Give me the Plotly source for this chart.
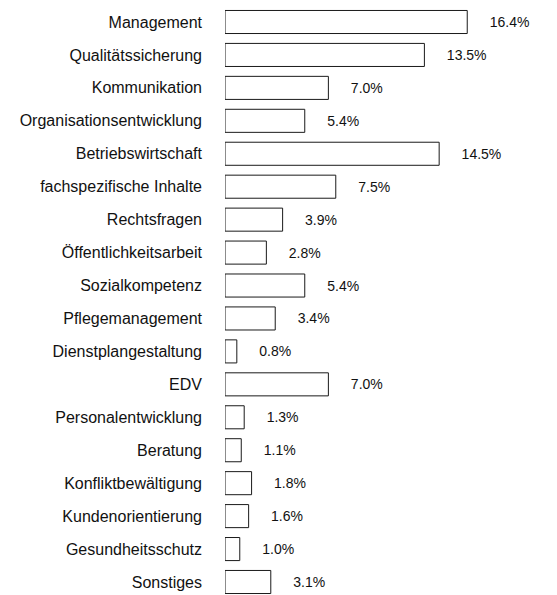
import plotly.graph_objects as go

categories = [
    'Management', 'Qualitätssicherung', 'Kommunikation', 'Organisationsentwicklung',
    'Betriebswirtschaft', 'fachspezifische Inhalte', 'Rechtsfragen', 'Öffentlichkeitsarbeit',
    'Sozialkompetenz', 'Pflegemanagement', 'Dienstplangestaltung', 'EDV',
    'Personalentwicklung', 'Beratung', 'Konfliktbewältigung', 'Kundenorientierung',
    'Gesundheitsschutz', 'Sonstiges',
]
shares = [16.4, 13.5, 7.0, 5.4, 14.5, 7.5, 3.9, 2.8, 5.4, 3.4, 0.8, 7.0, 1.3, 1.1, 1.8, 1.6, 1.0, 3.1]

FONT = 'Liberation Sans, Arial, Helvetica'

fig = go.Figure(go.Bar(
    x=shares,
    y=categories,
    orientation='h',
    marker=dict(color='white', line=dict(color='#1a1a1a', width=1)),
    text=[f'{v:.1f}%' for v in shares],
    texttemplate='&nbsp;&nbsp;&nbsp;&nbsp;&nbsp;%{text}',
    textposition='outside',
    cliponaxis=False,
    textfont=dict(family=FONT, size=14, color='#111111'),
))

fig.update_layout(
    width=557, height=595,
    margin=dict(l=225, r=10, t=5, b=0),
    paper_bgcolor='white', plot_bgcolor='white',
    bargap=0.3,
    showlegend=False,
    font=dict(family=FONT, color='#111111'),
)
fig.update_xaxes(range=[0, 21.8], visible=False, showgrid=False, zeroline=False)
# rows sit a bit tighter to the bottom edge than the default band layout
fig.update_yaxes(
    range=[17.395, -0.516], showgrid=False, zeroline=False, showline=False,
    ticks='', ticklabelstandoff=22, automargin=False,
    tickfont=dict(family=FONT, size=16, color='#111111'),
)

# page body has an 8px default margin; drop it so the figure sits at the window origin
fig.write_html('out.html', config={'displayModeBar': False},
               post_script="document.body.style.margin='0';")
